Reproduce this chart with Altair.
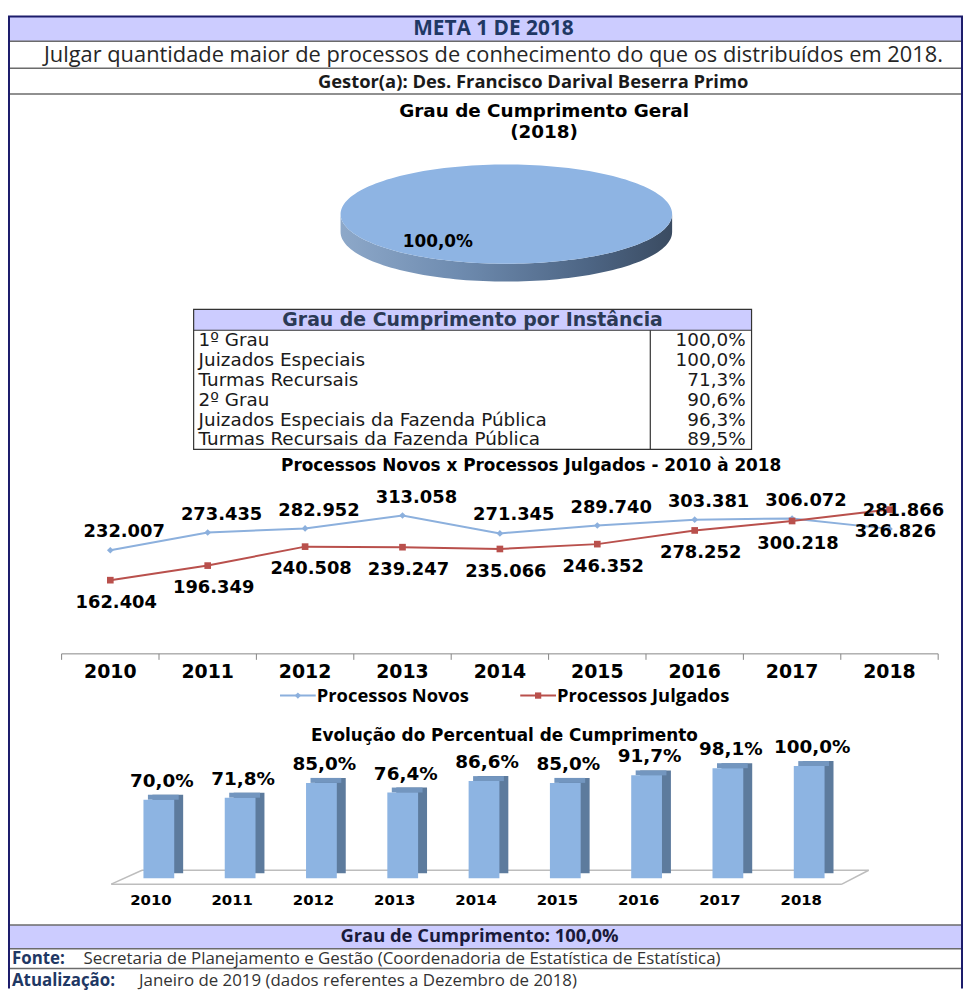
import math
import altair as alt
import pandas as pd

# ---------------- data ----------------
years = ["2010", "2011", "2012", "2013", "2014", "2015", "2016", "2017", "2018"]
novos = [232007, 273435, 282952, 313058, 271345, 289740, 303381, 306072, 281866]
julgados = [162404, 196349, 240508, 239247, 235066, 246352, 278252, 300218, 326826]
percentual = [70.0, 71.8, 85.0, 76.4, 86.6, 85.0, 91.7, 98.1, 100.0]
instancias = ["1º Grau", "Juizados Especiais", "Turmas Recursais", "2º Grau",
              "Juizados Especiais da Fazenda Pública",
              "Turmas Recursais da Fazenda Pública"]
instancia_pct = [100.0, 100.0, 71.3, 90.6, 96.3, 89.5]
geral_pct = 100.0
series = ["Processos Novos", "Processos Julgados"]
series_colors = ["#8CB0DD", "#B9504C"]
series_shapes = ["diamond", "square"]


def br_int(v):
    return f"{v:,}".replace(",", ".")


def br_pct(v):
    return f"{v:.1f}".replace(".", ",") + "%"


# ---------------- layout / style ----------------
W, H = 962, 984
LAV = "#CCCCFF"
NAVY = "#1F3864"
GRID = "#6B6B6B"
FRAME = "#1C1C6B"
SANS = "Open Sans"
WIDE = "DejaVu Sans"
one = pd.DataFrame({"k": [0]})


def rect(x1, x2, y1, y2, fill="white", stroke=None, sw=1.0):
    kw = dict(fill=fill)
    if stroke:
        kw.update(stroke=stroke, strokeWidth=sw)
    else:
        kw.update(strokeWidth=0)
    return alt.Chart(one).mark_rect(**kw).encode(
        x=alt.value(x1), x2=alt.value(x2), y=alt.value(y1), y2=alt.value(y2))


def seg(x1, y1, x2, y2, color, sw=1.0):
    return alt.Chart(one).mark_rule(color=color, strokeWidth=sw).encode(
        x=alt.value(x1), x2=alt.value(x2), y=alt.value(y1), y2=alt.value(y2))


def label(text, x, y, size, font=SANS, bold=False, color="#000000", align="center"):
    return alt.Chart(one).mark_text(
        text=text, font=font, fontSize=size,
        fontWeight="bold" if bold else "normal",
        color=color, align=align, baseline="middle").encode(
        x=alt.value(x), y=alt.value(y))


layers = []

# ---------------- frame & banners ----------------
layers += [
    rect(0, W, 5, 30, LAV),
    rect(0, W, 920, 944, LAV),
    seg(0, 30, W, 30, GRID, 1.5),
    seg(0, 57, W, 57, GRID, 1.5),
    seg(0, 83, W, 83, GRID, 1.5),
    seg(0, 920, W, 920, GRID, 1.5),
    seg(0, 944, W, 944, GRID, 1.5),
    seg(0, 964, W, 964, GRID, 1.5),
    seg(0, 5, W, 5, FRAME, 2),
    seg(1, 5, 1, H, FRAME, 2),
    seg(W - 1, 5, W - 1, H, FRAME, 2),
    label("META 1 DE 2018", 489, 18, 21, bold=True, color=NAVY),
    label("Julgar quantidade maior de processos de conhecimento do que os distribuídos em 2018.",
          489, 44, 22, color="#262626"),
    label("Gestor(a): Des. Francisco Darival Beserra Primo", 529, 70.5, 18.5, bold=True,
          color="#1A1A1A"),
    label("Grau de Cumprimento: " + br_pct(geral_pct), 475, 931.5, 18.5, bold=True,
          color="#1A1A3A"),
    label("Fonte:", 4, 954.5, 17, bold=True, color=NAVY, align="left"),
    label("Secretaria de Planejamento e Gestão (Coordenadoria de Estatística de Estatística)",
          76, 954.5, 17, color="#333333", align="left"),
    label("Atualização:", 4, 976.5, 17, bold=True, color=NAVY, align="left"),
    label("Janeiro de 2019 (dados referentes a Dezembro de 2018)", 132, 976.5, 17,
          color="#333333", align="left"),
]

# ---------------- pie (3D look) ----------------
PRX = 167
PRY = 50 / PRX
PD = 18 / PRX


def sector_path(frac, ry, n=180):
    m = max(2, int(n * frac))
    pts = ["M0,0"]
    for i in range(m + 1):
        t = 2 * math.pi * frac * i / m
        pts.append(f"L{math.sin(t):.4f},{-ry * math.cos(t):.4f}")
    return " ".join(pts) + " Z"


def side_path(frac, ry, d, n=90):
    # visible front wall of a full slice
    front = []
    for i in range(n + 1):
        t = math.pi * i / n
        front.append((math.cos(t), ry * math.sin(t)))
    back = [(x, y + d) for (x, y) in reversed(front)]
    allp = front + back
    return "M" + " L".join(f"{x:.4f},{y:.4f}" for x, y in allp) + " Z"


pie_df = pd.DataFrame({"pct": [geral_pct], "label": [br_pct(geral_pct)]})
frac = geral_pct / 100.0
side_grad = alt.Gradient(
    gradient="linear", x1=0, x2=1, y1=0, y2=0,
    stops=[alt.GradientStop(color="#8DA8C9", offset=0),
           alt.GradientStop(color="#6F8CB0", offset=0.35),
           alt.GradientStop(color="#4D6584", offset=0.75),
           alt.GradientStop(color="#3A4B61", offset=1)])
PCX, PCY = 502, 204
pie_side = alt.Chart(pie_df).mark_point(
    shape=side_path(frac, PRY, PD), size=(2 * PRX) ** 2, filled=True,
    fill=side_grad, opacity=1, strokeWidth=0).encode(
    x=alt.value(PCX), y=alt.value(PCY))
pie_top = alt.Chart(pie_df).mark_point(
    shape=sector_path(frac, PRY), size=(2 * PRX) ** 2, filled=True,
    fill="#8EB4E3", opacity=1, strokeWidth=0).encode(
    x=alt.value(PCX), y=alt.value(PCY))
pie_lab = alt.Chart(pie_df).mark_text(
    font=WIDE, fontWeight="bold", fontSize=17, color="#000000",
    baseline="middle").encode(x=alt.value(433), y=alt.value(232), text="label:N")
layers += [
    label("Grau de Cumprimento Geral", 540, 100, 18.5, font=WIDE, bold=True),
    label("(2018)", 540, 121, 18.5, font=WIDE, bold=True),
    pie_side, pie_top, pie_lab,
]

# ---------------- table ----------------
TX0, TX1, TDIV = 187, 749, 647
TY0, THEAD, TY1 = 300, 321, 441
tab_df = pd.DataFrame({"inst": instancias, "val": [br_pct(v) for v in instancia_pct]})
ty = alt.Y("inst:N", sort=instancias, axis=None, bandPosition=0.5,
           scale=alt.Scale(type="band", domain=instancias, range=[THEAD, TY1],
                           paddingInner=0, paddingOuter=0))
tab_names = alt.Chart(tab_df).mark_text(
    font=WIDE, fontSize=18.5, align="left", baseline="middle", color="#1A1A1A").encode(
    x=alt.value(TX0 + 5), y=ty, text="inst:N")
tab_vals = alt.Chart(tab_df).mark_text(
    font=WIDE, fontSize=18.5, align="right", baseline="middle", color="#1A1A1A").encode(
    x=alt.value(TX1 - 6), y=ty, text="val:N")
table = alt.layer(
    rect(TX0, TX1, TY0, THEAD, LAV),
    seg(TX0, THEAD, TX1, THEAD, "#333333", 1.2),
    seg(TDIV, THEAD, TDIV, TY1, "#333333", 1.2),
    rect(TX0, TX1, TY0, TY1, "transparent", "#333333", 1.2),
    label("Grau de Cumprimento por Instância", 468, 311, 19, font=WIDE, bold=True,
          color="#2B3A55"),
    tab_names, tab_vals,
)
layers.append(table)

# ---------------- line chart ----------------
LX0, LX1 = 54, 937
LAXIS = 647
line_df = pd.DataFrame({
    "year": years * 2,
    "series": [series[0]] * len(years) + [series[1]] * len(years),
    "value": novos + julgados,
    "label": [br_int(v) for v in novos + julgados],
})
lxs = alt.Scale(type="band", domain=years, range=[LX0, LX1], paddingInner=0, paddingOuter=0)
lys = alt.Scale(domain=[0, 400000], range=[643, 470], nice=False, zero=True)
cscale = alt.Scale(domain=series, range=series_colors)
sscale = alt.Scale(domain=series, range=series_shapes)
lx = alt.X("year:N", scale=lxs, axis=None, bandPosition=0.5)
ly = alt.Y("value:Q", scale=lys, axis=None)
lbase = alt.Chart(line_df).encode(x=lx, y=ly)
l_line = lbase.mark_line(strokeWidth=2).encode(
    color=alt.Color("series:N", scale=cscale, legend=None),
    detail="series:N")
l_pts = lbase.mark_point(filled=True, opacity=1, size=45).encode(
    color=alt.Color("series:N", scale=cscale, legend=None),
    shape=alt.Shape("series:N", scale=sscale, legend=None))
lab_style = dict(font=WIDE, fontWeight="bold", fontSize=18, color="#000000",
                 baseline="middle")
l_lab_n = lbase.transform_filter(alt.datum.series == series[0]).mark_text(
    dy=-18, dx=14, **lab_style).encode(text="label:N")
l_lab_j = lbase.transform_filter(alt.datum.series == series[1]).mark_text(
    dy=23, dx=6, **lab_style).encode(text="label:N")
yr_df = pd.DataFrame({"year": years})
l_ticks = alt.Chart(yr_df).mark_rule(color="#868686", strokeWidth=1).encode(
    x=alt.X("year:N", scale=lxs, axis=None, bandPosition=0),
    y=alt.value(LAXIS), y2=alt.value(LAXIS + 6))
l_tick_end = alt.Chart(yr_df).transform_filter(
    alt.datum.year == years[-1]).mark_rule(color="#868686", strokeWidth=1).encode(
    x=alt.X("year:N", scale=lxs, axis=None, bandPosition=1),
    y=alt.value(LAXIS), y2=alt.value(LAXIS + 6))
l_years = alt.Chart(yr_df).mark_text(
    font=WIDE, fontWeight="bold", fontSize=19, color="#000000", baseline="middle").encode(
    x=alt.X("year:N", scale=lxs, axis=None, bandPosition=0.5),
    y=alt.value(665), text="year:N")
line_chart = alt.layer(
    seg(LX0, LAXIS, LX1, LAXIS, "#868686", 1),
    l_ticks, l_tick_end, l_line, l_pts, l_lab_n, l_lab_j, l_years,
)
layers += [
    label("Processos Novos x Processos Julgados - 2010 à 2018", 527, 458, 17,
          font=WIDE, bold=True),
    line_chart,
]

# legend
leg_df = pd.DataFrame({"series": series})
legx = alt.X("series:N", axis=None,
             scale=alt.Scale(type="point", domain=series, range=[292, 534], padding=0))
LEGY = 689
leg_line = alt.Chart(leg_df).mark_point(
    shape="M-1,0H1", size=36 * 36, strokeWidth=2, filled=False, opacity=1).encode(
    x=legx, y=alt.value(LEGY), color=alt.Color("series:N", scale=cscale, legend=None))
leg_mark = alt.Chart(leg_df).mark_point(filled=True, opacity=1, size=40).encode(
    x=legx, y=alt.value(LEGY),
    color=alt.Color("series:N", scale=cscale, legend=None),
    shape=alt.Shape("series:N", scale=sscale, legend=None))
leg_text = alt.Chart(leg_df).mark_text(
    align="left", dx=19, font=SANS, fontWeight="bold", fontSize=18.5, color="#000000",
    baseline="middle").encode(x=legx, y=alt.value(LEGY), text="series:N")
layers.append(alt.layer(leg_line, leg_mark, leg_text))

# ---------------- bar chart ----------------
BX0, BX1 = 111, 848
bar_df = pd.DataFrame({"year": years, "pct": percentual,
                       "label": [br_pct(v) for v in percentual]})
bxs = alt.Scale(type="band", domain=years, range=[BX0, BX1], paddingInner=0, paddingOuter=0)
bys = alt.Scale(domain=[0, 100], range=[873, 760], nice=False, zero=True)
bx = alt.X("year:N", scale=bxs, axis=None)
by = alt.Y("pct:Q", scale=bys, axis=None)
BW = 31
b_side = alt.Chart(bar_df).mark_bar(
    size=BW, color="#5D7B9D", xOffset=9, yOffset=-5, y2Offset=-5).encode(x=bx, y=by)
b_top = alt.Chart(bar_df).mark_bar(
    size=BW, color="#7396BF", xOffset=4.5, yOffset=-5).encode(
    x=bx, y=by, y2=alt.Y2("pct:Q"))
b_front = alt.Chart(bar_df).mark_bar(size=BW, color="#8DB4E2").encode(x=bx, y=by)
b_lab = alt.Chart(bar_df).mark_text(
    dy=-19, dx=3, font=WIDE, fontWeight="bold", fontSize=18.5, color="#000000",
    baseline="middle").encode(
    x=alt.X("year:N", scale=bxs, axis=None, bandPosition=0.5), y=by, text="label:N")
b_years = alt.Chart(bar_df).mark_text(
    dx=-8, font=WIDE, fontWeight="bold", fontSize=15, color="#000000",
    baseline="middle").encode(
    x=alt.X("year:N", scale=bxs, axis=None, bandPosition=0.5),
    y=alt.value(895), text="year:N")
FLOOR = "#BDBDBD"
bar_chart = alt.layer(
    seg(104, 879, 840, 879, FLOOR, 1.5),
    seg(135, 865, 867, 865, FLOOR, 1.5),
    seg(104, 879, 135, 865, FLOOR, 1.5),
    seg(840, 879, 867, 865, FLOOR, 1.5),
    b_side, b_top, b_front, b_lab, b_years,
)
layers += [
    label("Evolução do Percentual de Cumprimento", 500, 730, 17, font=WIDE, bold=True),
    bar_chart,
]

chart = alt.layer(*layers).resolve_scale(
    x="independent", y="independent", color="independent", shape="independent"
).properties(
    width=W, height=H, padding=0, background="white",
    autosize=alt.AutoSizeParams(type="none"),
).configure_view(stroke=None)

chart.save("out.html", embed_options={"renderer": "svg", "actions": False})
